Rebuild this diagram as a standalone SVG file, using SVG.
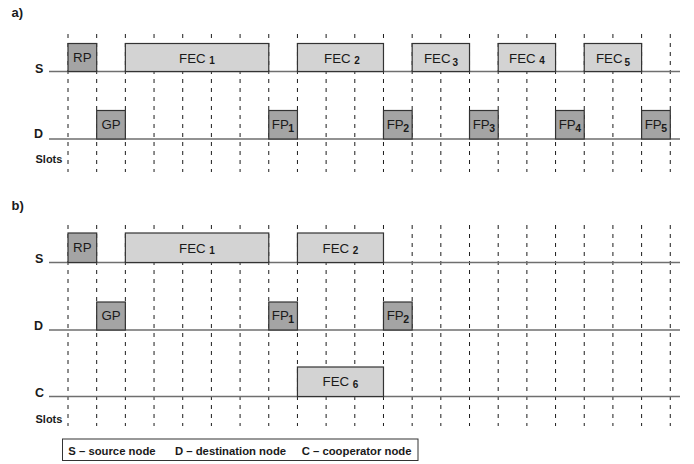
<svg xmlns="http://www.w3.org/2000/svg" width="694" height="464" viewBox="0 0 694 464">
  <style>
    text { font-family: "Liberation Sans", Arial, sans-serif; fill: #1a1a1a; }
    .panel { font-size: 13px; font-weight: bold; }
    .row { font-size: 12.5px; font-weight: bold; }
    .slots { font-size: 11px; font-weight: bold; }
    .lbl { font-size: 13.3px; text-anchor: middle; }
    .sub { font-size: 10px; font-weight: bold; }
    .fsub { font-size: 10.5px; font-weight: bold; }
    .legend { font-size: 11.3px; font-weight: bold; }
    .slot { stroke: #1c1c1c; stroke-width: 1; stroke-dasharray: 4 5; fill: none; }
    .axis { stroke: #6f6f6f; stroke-width: 1.4; fill: none; }
    .ctl { fill: #a4a4a4; stroke: #333; stroke-width: 1.2; }
    .fec { fill: #d3d3d3; stroke: #333; stroke-width: 1.2; }
  </style>

  <!-- panel a) -->
  <text class="panel" x="11.5" y="17">a)</text>
  <text class="row" x="35" y="72.5">S</text>
  <text class="row" x="34" y="138">D</text>
  <text class="slots" x="35.5" y="163">Slots</text>

  <g id="slots-a">
    <path class="slot" d="M68,34V172M96.68,34V172M125.36,34V172M154.04,34V172M182.72,34V172M211.4,34V172M240.08,34V172M268.76,34V172M297.44,34V172M326.12,34V172M354.8,34V172M383.48,34V172M412.16,34V172M440.84,34V172M469.52,34V172M498.2,34V172M526.88,34V172M555.56,34V172M584.24,34V172M612.92,34V172M641.6,34V172M670.28,34V172"/>
  </g>
  <g id="connectors-a">
    <path class="axis" d="M49,71.5H680M49,139H680"/>
  </g>

  <g id="a-RP"><rect class="ctl" x="68" y="43.5" width="28.68" height="28"/><text class="lbl" x="82.3" y="62">RP</text></g>
  <g id="a-FEC1"><rect class="fec" x="125.36" y="43.5" width="143.4" height="28"/><text class="lbl" x="197" y="62.5">FEC <tspan class="sub" dy="1.5">1</tspan></text></g>
  <g id="a-FEC2"><rect class="fec" x="297.44" y="43.5" width="86.04" height="28"/><text class="lbl" x="342" y="62.5">FEC <tspan class="sub" dy="1.5">2</tspan></text></g>
  <g id="a-FEC3"><rect class="fec" x="412.16" y="43.5" width="57.36" height="28"/><text class="lbl" x="441" y="62.5">FEC<tspan class="sub" dx="2" dy="3">3</tspan></text></g>
  <g id="a-FEC4"><rect class="fec" x="498.2" y="43.5" width="57.36" height="28"/><text class="lbl" x="527" y="62.5">FEC <tspan class="sub" dy="1.5">4</tspan></text></g>
  <g id="a-FEC5"><rect class="fec" x="584.24" y="43.5" width="57.36" height="28"/><text class="lbl" x="613" y="62.5">FEC<tspan class="sub" dx="2" dy="3">5</tspan></text></g>

  <g id="a-GP"><rect class="ctl" x="96.68" y="110.5" width="28.68" height="28.5"/><text class="lbl" x="111" y="128.5">GP</text></g>
  <g id="a-FP1"><rect class="ctl" x="268.76" y="110.5" width="28.68" height="28.5"/><text class="lbl" x="283" y="128.5">FP<tspan class="fsub" dx="-0.5" dy="3">1</tspan></text></g>
  <g id="a-FP2"><rect class="ctl" x="383.48" y="110.5" width="28.68" height="28.5"/><text class="lbl" x="397.8" y="128.5">FP<tspan class="fsub" dx="-0.5" dy="3">2</tspan></text></g>
  <g id="a-FP3"><rect class="ctl" x="469.52" y="110.5" width="28.68" height="28.5"/><text class="lbl" x="483.8" y="128.5">FP<tspan class="fsub" dx="-0.5" dy="3">3</tspan></text></g>
  <g id="a-FP4"><rect class="ctl" x="555.56" y="110.5" width="28.68" height="28.5"/><text class="lbl" x="569.9" y="128.5">FP<tspan class="fsub" dx="-0.5" dy="3">4</tspan></text></g>
  <g id="a-FP5"><rect class="ctl" x="641.6" y="110.5" width="28.68" height="28.5"/><text class="lbl" x="655.9" y="128.5">FP<tspan class="fsub" dx="-0.5" dy="3">5</tspan></text></g>

  <!-- panel b) -->
  <text class="panel" x="11.5" y="210">b)</text>
  <text class="row" x="35" y="263">S</text>
  <text class="row" x="34" y="330">D</text>
  <text class="row" x="35" y="397">C</text>
  <text class="slots" x="35.5" y="422.5">Slots</text>

  <g id="slots-b">
    <path class="slot" d="M68,225V426M96.68,225V426M125.36,225V426M154.04,225V426M182.72,225V426M211.4,225V426M240.08,225V426M268.76,225V426M297.44,225V426M326.12,225V426M354.8,225V426M383.48,225V426M412.16,225V426M440.84,225V426M469.52,225V426M498.2,225V426M526.88,225V426M555.56,225V426M584.24,225V426M612.92,225V426M641.6,225V426M670.28,225V426"/>
  </g>
  <g id="connectors-b">
    <path class="axis" d="M49,262.5H680M49,330H680M49,396.5H680"/>
  </g>

  <g id="b-RP"><rect class="ctl" x="68" y="233" width="28.68" height="29.5"/><text class="lbl" x="82.3" y="252">RP</text></g>
  <g id="b-FEC1"><rect class="fec" x="125.36" y="233" width="143.4" height="29.5"/><text class="lbl" x="197" y="252.5">FEC <tspan class="sub" dy="1.5">1</tspan></text></g>
  <g id="b-FEC2"><rect class="fec" x="297.44" y="233" width="86.04" height="29.5"/><text class="lbl" x="340.5" y="252.5">FEC <tspan class="sub" dy="1.5">2</tspan></text></g>
  <g id="b-GP"><rect class="ctl" x="96.68" y="302" width="28.68" height="28"/><text class="lbl" x="111" y="320">GP</text></g>
  <g id="b-FP1"><rect class="ctl" x="268.76" y="302" width="28.68" height="28"/><text class="lbl" x="283" y="320">FP<tspan class="fsub" dx="-0.5" dy="3">1</tspan></text></g>
  <g id="b-FP2"><rect class="ctl" x="383.48" y="302" width="28.68" height="28"/><text class="lbl" x="397.8" y="320">FP<tspan class="fsub" dx="-0.5" dy="3">2</tspan></text></g>
  <g id="b-FEC6"><rect class="fec" x="297.44" y="367" width="86.04" height="29.5"/><text class="lbl" x="340.5" y="386">FEC <tspan class="sub" dy="1.5">6</tspan></text></g>

  <!-- legend -->
  <g id="legend">
    <rect x="62.5" y="439" width="355.5" height="21.5" fill="#fff" stroke="#333" stroke-width="1"/>
    <text class="legend" x="68.3" y="454.5">S – source node</text>
    <text class="legend" x="175" y="454.5">D – destination node</text>
    <text class="legend" x="301.7" y="454.5">C – cooperator node</text>
  </g>
</svg>
